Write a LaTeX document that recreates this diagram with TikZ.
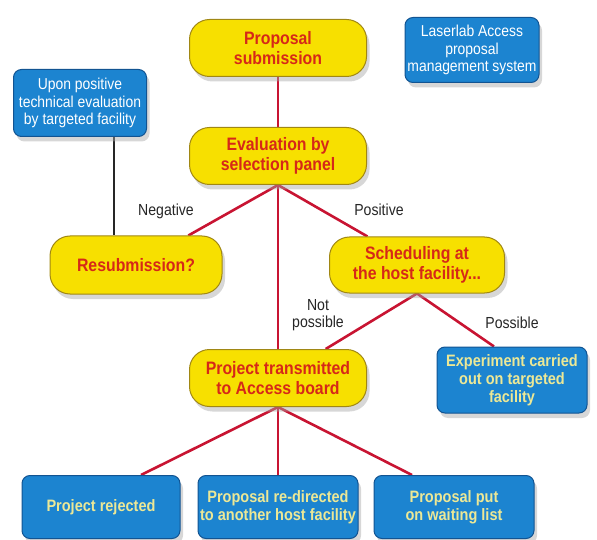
\documentclass[tikz,border=0pt]{standalone}
\usepackage{fontspec}
\setmainfont{Liberation Sans}[FakeStretch=0.88]
\usetikzlibrary{shadows,backgrounds}
\definecolor{lbYellow}{RGB}{247,224,0}
\definecolor{lbYellowEdge}{RGB}{160,135,20}
\definecolor{lbBlue}{RGB}{28,132,208}
\definecolor{lbBlueEdge}{RGB}{18,84,146}
\definecolor{lbRedText}{RGB}{214,40,24}
\definecolor{lbLine}{RGB}{200,20,50}
\definecolor{lbPale}{RGB}{236,232,150}
\newcommand{\lbSize}[2]{\fontsize{#1}{#2}\selectfont}

\begin{document}
\begin{tikzpicture}[x=1pt,y=-1pt,
  stage/.style={draw=lbYellowEdge, line width=1pt, fill=lbYellow, rounded corners=20pt,
    align=center, text=lbRedText, font=\lbSize{18}{20}\bfseries, inner sep=0pt,
    minimum width=177pt, minimum height=57pt,
    drop shadow={shadow xshift=3pt, shadow yshift=-5pt, fill=black!35, opacity=.45}},
  note/.style={draw=lbBlueEdge, line width=1pt, fill=lbBlue, rounded corners=8pt,
    align=center, text=white, font=\lbSize{15.8}{17.5}, inner sep=0pt,
    drop shadow={shadow xshift=3pt, shadow yshift=-5pt, fill=black!35, opacity=.45}},
  outcome/.style={note, text=lbPale, font=\lbSize{16.5}{18}\bfseries},
  link/.style={lbLine, line width=2.6pt},
  tag/.style={text=black!85, align=center, font=\lbSize{16}{17}, inner sep=0pt}]
\useasboundingbox (0,0) rectangle (597,540);

% stages
\node[stage] (submit) at (278,48) {Proposal\\submission};
\node[stage] (panel) at (278,156) {Evaluation by\\selection panel};
\node[stage, minimum width=172pt, minimum height=58pt] (resub) at (136,265) {Resubmission?};
\node[stage, minimum width=175pt, minimum height=56pt] (sched) at (417,265) {Scheduling at\\the host facility...};
\node[stage] (board) at (278,378) {Project transmitted\\to Access board};

% blue boxes
\node[note, minimum width=133pt, minimum height=67pt] (upon) at (80,103) {Upon positive\\technical evaluation\\by targeted facility};
\node[note, minimum width=134pt, minimum height=65pt] (laser) at (472,50) {Laserlab Access\\proposal\\management system};
\node[outcome, minimum width=150pt, minimum height=66pt] (expt) at (512,380) {Experiment carried\\out on targeted\\facility};
\node[outcome, minimum width=158pt, minimum height=63pt] (reject) at (101,507) {Project rejected};
\node[outcome, minimum width=160pt, minimum height=63pt] (redir) at (278,507) {Proposal re-directed\\to another host facility};
\node[outcome, minimum width=160pt, minimum height=63pt] (wait) at (454,507) {Proposal put\\on waiting list};

% connectors
\begin{pgfonlayer}{background}
\draw[link] (submit) -- (panel);
\draw[link] (panel.south) -- (resub);
\draw[link] (panel.south) -- (sched);
\draw[link] (panel.south) -- (board.north);
\draw[link] (sched.south) -- (board);
\draw[link] (sched.south) -- ([xshift=-18pt]expt.north);
\draw[link] (board.south) -- ([xshift=40pt]reject.north);
\draw[link] (board.south) -- (redir.north);
\draw[link] (board.south) -- ([xshift=-42pt]wait.north);
\draw[line width=2.4pt, black!85] ([xshift=34pt]upon.south) -- ([xshift=34pt]upon.south |- resub.north);
\end{pgfonlayer}

% labels
\node[tag] (neg) at (166,211) {Negative};
\node[tag] (pos) at (379,210) {Positive};
\node[tag] (notpos) at (318,315) {Not\\possible};
\node[tag] (ispos) at (512,323) {Possible};
\end{tikzpicture}
\end{document}
